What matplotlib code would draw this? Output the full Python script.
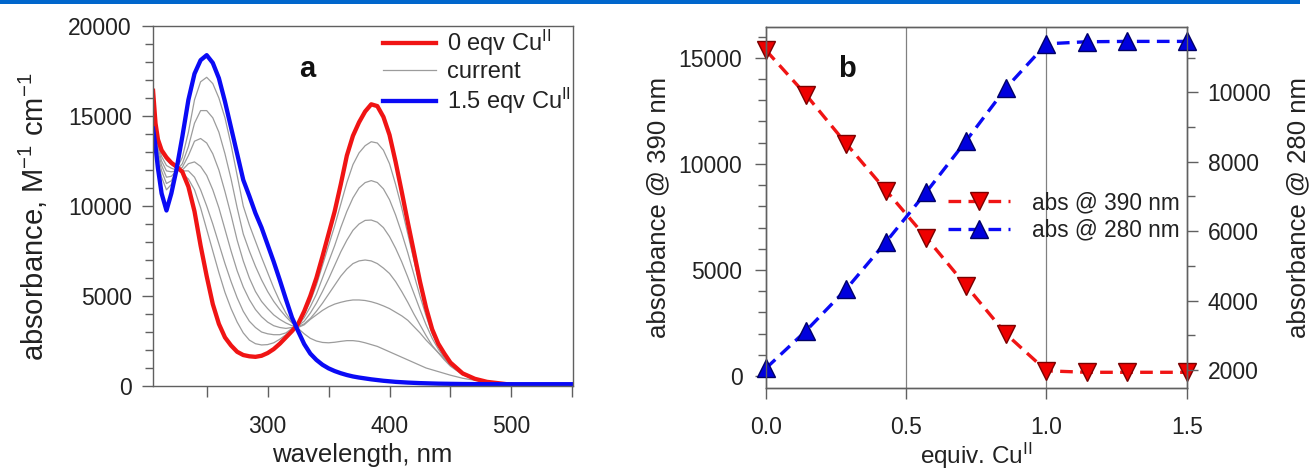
import numpy as np
import matplotlib.pyplot as plt
from matplotlib.patches import Rectangle
from matplotlib.lines import Line2D
from matplotlib.ticker import MultipleLocator, FixedLocator

plt.rcParams['font.family'] = ['Liberation Sans', 'DejaVu Sans']
plt.rcParams['mathtext.default'] = 'regular'

#   Panel a: UV-vis spectra, all on one wavelength grid [nm]
wavelength = [206, 208, 210, 213, 217, 221, 225,
              230, 235, 240, 245, 250, 255, 260, 265, 270, 275,
              280, 285, 290, 295, 300, 305, 310, 315, 320, 325,
              330, 335, 340, 345, 350, 355, 360, 365, 370, 375,
              380, 385, 390, 395, 400, 405, 410, 415, 420, 425,
              430, 435, 440, 445, 450,
              460, 470, 480, 490, 500, 510, 520, 535, 550]

#   0 eqv Cu(II)
abs_0eqv = [16400, 14600, 13700, 13100, 12700, 12400, 12200,
            11900, 11070, 9700, 7800, 6100, 4550, 3450, 2700, 2250, 1900,
            1720, 1650, 1620, 1680, 1830, 2050, 2350, 2700, 3050, 3450,
            4150, 5000, 6000, 7200, 8450, 9700, 11200, 12800, 13900, 14650,
            15250, 15650, 15550, 14950, 13950, 12450, 10800, 9100, 7450, 5800,
            4350, 3150, 2350, 1800, 1300,
            700, 400, 230, 150, 70, 0, -40, -40, -40]

#   1.5 eqv Cu(II)
abs_15eqv = [14300, 13300, 12100, 10700, 9750, 10700, 11950,
             13850, 15900, 17350, 18100, 18380, 17950, 17100, 15800, 14350, 12900,
             11450, 10550, 9600, 8800, 7850, 6900, 5880, 4820, 3800, 3050,
             2330, 1800, 1450, 1180, 980, 830, 710, 610, 530, 470,
             420, 370, 330, 290, 260, 230, 210, 190, 175, 160,
             150, 140, 130, 125, 120,
             110, 105, 100, 100, 100, 100, 100, 100, 100]

#   intermediate spectra ("current"), 1/7 ... 6/7 eqv
abs_1of7 = [16000, 14450, 13550, 12950, 12550, 12300, 12100,
            11800, 11500, 10900, 9900, 8700, 7500, 6300, 5200, 4300, 3550,
            2950, 2550, 2350, 2280, 2300, 2400, 2600, 2850, 3150, 3400,
            4000, 4700, 5600, 6700, 7800, 8900, 10100, 11300, 12300, 12950,
            13350, 13570, 13500, 13100, 12350, 11200, 9900, 8450, 7000, 5550,
            4250, 3100, 2300, 1750, 1300,
            690, 400, 230, 150, 100, 60, 40, 30, 30]
abs_2of7 = [15700, 14300, 13400, 12750, 12250, 12100, 12000,
            11950, 11950, 11600, 10900, 10000, 9000, 7900, 6800, 5800, 4900,
            4150, 3600, 3250, 3000, 2900, 2850, 2850, 2950, 3200, 3380,
            3800, 4400, 5100, 6000, 6900, 7800, 8800, 9700, 10450, 11000,
            11300, 11410, 11300, 10950, 10350, 9500, 8500, 7400, 6200, 5000,
            3900, 2900, 2200, 1650, 1250,
            670, 390, 230, 150, 100, 60, 40, 30, 30]
abs_3of7 = [15400, 14150, 13250, 12500, 11950, 11900, 11950,
            12000, 12350, 12450, 12200, 11700, 10900, 9900, 8700, 7500, 6400,
            5500, 4800, 4250, 3850, 3550, 3350, 3250, 3200, 3250, 3350,
            3600, 4050, 4600, 5250, 5950, 6700, 7450, 8100, 8650, 9000,
            9200, 9220, 9100, 8800, 8300, 7650, 6900, 6050, 5150, 4250,
            3400, 2650, 2050, 1550, 1150,
            640, 380, 220, 150, 100, 70, 50, 40, 40]
abs_4of7 = [15100, 14000, 13050, 12250, 11600, 11650, 11950,
            12150, 12800, 13600, 13750, 13500, 12900, 12000, 10800, 9500, 8100,
            6950, 6000, 5250, 4700, 4300, 3950, 3700, 3500, 3350, 3300,
            3450, 3750, 4150, 4600, 5100, 5600, 6100, 6500, 6800, 6950,
            7000, 6950, 6800, 6550, 6250, 5800, 5250, 4650, 4000, 3400,
            2800, 2250, 1850, 1450, 1100,
            620, 370, 220, 150, 100, 80, 60, 50, 50]
abs_5of7 = [14900, 13800, 12850, 11950, 11250, 11400, 11950,
            12350, 13300, 14600, 15300, 15300, 14900, 14100, 12900, 11500, 9900,
            8450, 7500, 6650, 5900, 5250, 4700, 4250, 3850, 3500, 3250,
            3400, 3700, 3950, 4200, 4400, 4550, 4650, 4730, 4780, 4780,
            4750, 4680, 4580, 4450, 4300, 4100, 3900, 3650, 3300, 2950,
            2550, 2200, 1850, 1500, 1200,
            720, 430, 270, 180, 120, 100, 80, 70, 70]
abs_6of7 = [14600, 13600, 12600, 11600, 10900, 11200, 12000,
            12700, 14100, 15900, 16900, 17150, 16800, 16000, 14900, 13400, 11700,
            10000, 8950, 8050, 7150, 6300, 5450, 4700, 4050, 3550, 3200,
            2900, 2650, 2500, 2420, 2400, 2430, 2480, 2520, 2520, 2480,
            2400, 2300, 2200, 2050, 1900, 1750, 1600, 1450, 1300, 1150,
            1000, 900, 800, 700, 600,
            430, 320, 230, 170, 130, 110, 100, 100, 100]

#   Panel b: titration curves
equiv_cu = [0.0, 0.143, 0.286, 0.429, 0.571, 0.714, 0.857, 1.0, 1.143, 1.286, 1.5]
abs_390 = [15350, 13250, 10950, 8730, 6530, 4250, 1970, 250, 180, 180, 180]
abs_280 = [2050, 3130, 4330, 5700, 7120, 8610, 10140, 11400, 11460, 11470, 11470]

RED = '#f01414'
BLUE = '#0a0af5'
GRAY = '#9c9c9c'
SPINE = '#606060'
TEXT = '#222222'

W, H = 1313, 470
fig = plt.figure(figsize=(W / 100, H / 100), dpi=100)

#   blue strip along the top of the page
fig.add_artist(Rectangle((0, 1 - 4 / H), 1300 / W, 4 / H, transform=fig.transFigure,
                         facecolor='#0066cc', edgecolor='none'))


def style_axis(ax):
    for sp in ax.spines.values():
        sp.set_color(SPINE)
        sp.set_linewidth(1.0)
    ax.tick_params(which='both', direction='out', color=SPINE, width=1.0,
                   labelcolor=TEXT)
    ax.tick_params(which='major', length=8)
    ax.tick_params(which='minor', length=5.5)


#   ---------------- panel a ----------------
ax_a = fig.add_axes([152.7 / W, 1 - 386 / H, 420 / W, 360 / H])
style_axis(ax_a)

for curve in [abs_1of7, abs_2of7, abs_3of7, abs_4of7, abs_5of7, abs_6of7]:
    ax_a.plot(wavelength, curve, color=GRAY, lw=0.9)
ax_a.plot(wavelength, abs_0eqv, color=RED, lw=3.1)
ax_a.plot(wavelength, abs_15eqv, color=BLUE, lw=3.1)

ax_a.set_xlim(205.7, 550.3)
ax_a.set_ylim(0, 20000)
ax_a.xaxis.set_major_locator(FixedLocator([300, 400, 500]))
ax_a.xaxis.set_minor_locator(FixedLocator([250, 350, 450, 550]))
ax_a.yaxis.set_major_locator(MultipleLocator(5000))
ax_a.yaxis.set_minor_locator(MultipleLocator(1000))
ax_a.tick_params(axis='x', which='minor', length=8)
ax_a.tick_params(axis='x', labelsize=16.5, pad=13)
ax_a.tick_params(axis='y', labelsize=16.5, pad=7)

ax_a.set_xlabel('wavelength, nm', fontsize=18.5, color=TEXT)
ax_a.set_ylabel('absorbance, M$^{-1}$ cm$^{-1}$', fontsize=21, color=TEXT)
ax_a.xaxis.set_label_coords(0.5, -0.157)
ax_a.yaxis.set_label_coords(-0.245, 0.47)

ax_a.text(0.367, 0.859, 'a', transform=ax_a.transAxes, fontsize=21,
          fontweight='bold', ha='center', va='baseline', color='#111111')

legend_a = [Line2D([], [], color=RED, lw=3.1),
            Line2D([], [], color=GRAY, lw=0.9),
            Line2D([], [], color=BLUE, lw=3.1)]
ax_a.legend(legend_a, ['0 eqv Cu$^{II}$', 'current', '1.5 eqv Cu$^{II}$'],
            loc='upper left', bbox_to_anchor=(0.548, 0.995), frameon=False,
            fontsize=17, handlelength=2.25, handletextpad=0.45, labelspacing=0.13,
            borderpad=0, borderaxespad=0, labelcolor=TEXT)

#   ---------------- panel b ----------------
ax_b = fig.add_axes([766 / W, 1 - 388 / H, 420.7 / W, 361 / H])
style_axis(ax_b)
ax_b.axvline(0.5, color='#808080', lw=0.9, zorder=0)
ax_b.axvline(1.0, color='#808080', lw=0.9, zorder=0)

dash = (0, (3.8, 2.2))
l390, = ax_b.plot(equiv_cu, abs_390, color=RED, lw=2.4, ls=dash, marker='v', ms=12.5,
                  mfc='#ee0000', mec='#7a0000', mew=1.0, clip_on=False)
ax_b.set_xlim(0, 1.5)
ax_b.set_ylim(-560, 16450)
ax_b.set_xticks([0, 0.5, 1.0, 1.5], ['0.0', '0.5', '1.0', '1.5'])
ax_b.yaxis.set_major_locator(MultipleLocator(5000))
ax_b.yaxis.set_minor_locator(FixedLocator(np.arange(0, 16001, 1000)))
ax_b.tick_params(axis='x', labelsize=16.5, pad=12)
ax_b.tick_params(axis='y', labelsize=16.5, pad=9)
ax_b.set_xlabel('equiv. Cu$^{II}$', fontsize=17.5, color=TEXT)
ax_b.set_ylabel('absorbance @ 390 nm', fontsize=18.5, color=TEXT)
ax_b.xaxis.set_label_coords(0.5, -0.145)
ax_b.yaxis.set_label_coords(-0.228, 0.5)
ax_b.text(0.192, 0.862, 'b', transform=ax_b.transAxes, fontsize=21,
          fontweight='bold', ha='center', va='baseline', color='#111111')

ax_c = ax_b.twinx()
style_axis(ax_c)
l280, = ax_c.plot(equiv_cu, abs_280, color=BLUE, lw=2.4, ls=dash, marker='^', ms=12.5,
                  mfc='#0000dd', mec='#000066', mew=1.0, clip_on=False)
ax_c.set_ylim(1480, 11885)
ax_c.yaxis.set_major_locator(MultipleLocator(2000))
ax_c.yaxis.set_minor_locator(MultipleLocator(1000))
ax_c.tick_params(axis='y', labelsize=16.5, pad=7)
ax_c.set_ylabel('absorbance @ 280 nm', fontsize=18.5, color=TEXT)
ax_c.yaxis.set_label_coords(1.236, 0.5)

ax_c.legend([l390, l280], ['abs @ 390 nm', 'abs @ 280 nm'], loc='center left',
            bbox_to_anchor=(0.433, 0.475), frameon=False, fontsize=16.3,
            handlelength=2.75, handletextpad=0.95, labelspacing=0.2,
            borderpad=0, borderaxespad=0, labelcolor=TEXT)

fig.savefig('out.png', dpi=100)
